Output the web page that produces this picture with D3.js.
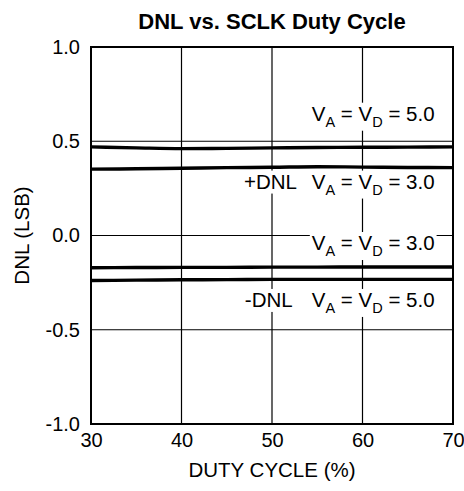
<!DOCTYPE html>
<html>
<head>
<meta charset="utf-8">
<script src="https://cdn.jsdelivr.net/npm/d3@7"></script>
<style>
  html, body { margin: 0; padding: 0; background: #fff; }
  svg { display: block; font-family: "Liberation Sans", Arial, Helvetica, sans-serif; }
</style>
</head>
<body>
<svg id="chart" width="464" height="491"></svg>
<script>
// ---- data ----
const dutyCycle = [30, 35, 40, 45, 50, 55, 60, 65, 70];
const posDNL_5V = [0.470, 0.465, 0.461, 0.462, 0.465, 0.467, 0.468, 0.469, 0.470];
const posDNL_3V = [0.352, 0.354, 0.357, 0.360, 0.362, 0.365, 0.363, 0.361, 0.360];
const negDNL_3V = [-0.171, -0.170, -0.169, -0.169, -0.168, -0.168, -0.167, -0.167, -0.167];
const negDNL_5V = [-0.239, -0.237, -0.235, -0.234, -0.233, -0.233, -0.233, -0.233, -0.233];
const xTicks = [30, 40, 50, 60, 70];
const yTicks = [1.0, 0.5, 0.0, -0.5, -1.0];
const yTickLabels = ["1.0", "0.5", "0.0", "-0.5", "-1.0"];
const titleText = "DNL vs. SCLK Duty Cycle";
const xTitle = "DUTY CYCLE (%)";
const yTitle = "DNL (LSB)";
const annVolt = [
  { duty: 54.4, dnl: 0.609, v: "5.0" },
  { duty: 54.4, dnl: 0.249, v: "3.0" },
  { duty: 54.4, dnl: -0.077, v: "3.0" },
  { duty: 54.4, dnl: -0.379, v: "5.0" }
];
const annSign = [
  { duty: 46.9, dnl: 0.249, t: "+DNL" },
  { duty: 47.0, dnl: -0.379, t: "-DNL" }
];

const series = [posDNL_5V, posDNL_3V, negDNL_3V, negDNL_5V];

// ---- layout ----
const svg = d3.select("#chart");
const x = d3.scaleLinear().domain([30, 70]).range([91, 453]);
const y = d3.scaleLinear().domain([-1, 1]).range([424, 47]);

const gGrid = svg.append("g");
const gLines = svg.append("g");
const gAnn = svg.append("g");
const gFrame = svg.append("g");

// gridlines
gGrid.selectAll("line.vx").data(xTicks.slice(1, -1)).join("line")
  .attr("x1", d => x(d)).attr("x2", d => x(d))
  .attr("y1", y(1)).attr("y2", y(-1))
  .attr("stroke", "#000").attr("stroke-width", 1.2);
gGrid.selectAll("line.hy").data(yTicks.slice(1, -1)).join("line")
  .attr("x1", x(30)).attr("x2", x(70))
  .attr("y1", d => y(d)).attr("y2", d => y(d))
  .attr("stroke", "#000").attr("stroke-width", 1.2);

// curves
const line = d3.line().x((d, i) => x(dutyCycle[i])).y(d => y(d)).curve(d3.curveMonotoneX);
gLines.selectAll("path").data(series).join("path")
  .attr("d", d => line(d))
  .attr("fill", "none").attr("stroke", "#000").attr("stroke-width", 3.4);

// annotations with white background
function addLabel(g, px, py, build) {
  const grp = g.append("g");
  const bg = grp.append("rect").attr("fill", "#fff");
  const t = grp.append("text").attr("x", px).attr("y", py)
    .attr("font-size", 20.5).attr("fill", "#000");
  build(t);
  const b = t.node().getBBox();
  bg.attr("x", b.x - 2).attr("y", b.y + 1).attr("width", b.width + 4).attr("height", b.height);
}
annVolt.forEach(a => {
  addLabel(gAnn, x(a.duty), y(a.dnl), t => {
    t.append("tspan").text("V");
    t.append("tspan").attr("font-size", 14.5).attr("dy", 6).text("A");
    t.append("tspan").attr("dy", -6).text(" = V");
    t.append("tspan").attr("font-size", 14.5).attr("dy", 6).text("D");
    t.append("tspan").attr("dy", -6).text(" = " + a.v);
  });
});
annSign.forEach(a => {
  addLabel(gAnn, x(a.duty), y(a.dnl), t => t.text(a.t));
});

// frame
gFrame.append("rect")
  .attr("x", x(30)).attr("y", y(1))
  .attr("width", x(70) - x(30)).attr("height", y(-1) - y(1))
  .attr("fill", "none").attr("stroke", "#000").attr("stroke-width", 2);

// axes tick labels
const xAxis = d3.axisBottom(x).tickValues(xTicks).tickSize(0).tickPadding(9).tickFormat(d3.format("d"));
const gx = svg.append("g").attr("transform", `translate(0,${y(-1)})`).call(xAxis);
gx.select(".domain").remove();
gx.selectAll("text").attr("font-size", 20).attr("font-family", "Liberation Sans, Arial, sans-serif").attr("fill", "#000");

const yAxis = d3.axisLeft(y).tickValues(yTicks).tickSize(0).tickPadding(11)
  .tickFormat((d, i) => yTickLabels[i]);
const gy = svg.append("g").attr("transform", `translate(${x(30)},0)`).call(yAxis);
gy.select(".domain").remove();
gy.selectAll("text").attr("font-size", 20).attr("font-family", "Liberation Sans, Arial, sans-serif").attr("fill", "#000");

// titles
svg.append("text").attr("x", (x(30) + x(70)) / 2).attr("y", 29)
  .attr("text-anchor", "middle").attr("font-size", 22).attr("font-weight", "bold").text(titleText);
svg.append("text").attr("x", (x(30) + x(70)) / 2).attr("y", 477)
  .attr("text-anchor", "middle").attr("font-size", 20.5).text(xTitle);
svg.append("text").attr("transform", `translate(29,${y(0)}) rotate(-90)`)
  .attr("text-anchor", "middle").attr("font-size", 20.5).text(yTitle);
</script>
</body>
</html>
